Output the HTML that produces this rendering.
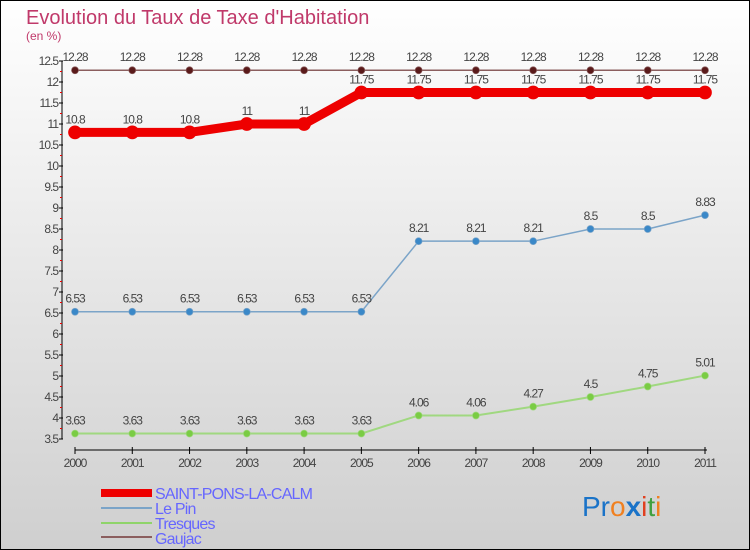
<!DOCTYPE html>
<html><head><meta charset="utf-8"><style>
html,body{margin:0;padding:0}
body{width:750px;height:550px;overflow:hidden;font-family:"Liberation Sans",sans-serif}
svg{display:block}
</style></head><body>
<svg id="chart" width="750" height="550" xmlns="http://www.w3.org/2000/svg">
<defs><linearGradient id="bg" x1="0" y1="0" x2="0" y2="1"><stop offset="0" stop-color="#ffffff"/><stop offset="1" stop-color="#cfcfcf"/></linearGradient></defs>
<rect x="0.5" y="0.5" width="749" height="549" fill="url(#bg)" stroke="#000"/>
<text x="26" y="24" font-size="20" fill="#c0396a">Evolution du Taux de Taxe d'Habitation</text>
<text x="26" y="40" font-size="12" fill="#c0396a">(en %)</text>
<g id="axes"></g>
<g id="series"></g>
<g id="legend" font-size="16" fill="#6666ff">
<rect x="101" y="489" width="51" height="8" fill="#e00"/>
<text x="155" y="499" fill="#6666ff" letter-spacing="-0.8">SAINT-PONS-LA-CALM</text>
<rect x="101" y="507" width="51" height="2" fill="#7ba4c8"/>
<text x="155" y="514" fill="#6666ff" letter-spacing="-0.8">Le Pin</text>
<rect x="101" y="522" width="51" height="2" fill="#8fd46a"/>
<text x="155" y="529" fill="#6666ff" letter-spacing="-0.8">Tresques</text>
<rect x="101" y="536" width="51" height="2" fill="#8b5e5e"/>
<text x="155" y="544" fill="#6666ff" letter-spacing="-0.8">Gaujac</text>
</g>
<text x="582" y="516" font-size="28"><tspan fill="#1a73c8">Pr</tspan><tspan fill="#f08020">o</tspan><tspan fill="#1a73c8" font-weight="bold">x</tspan><tspan fill="#e04020">i</tspan><tspan fill="#40a040">t</tspan><tspan fill="#f08020">i</tspan></text>
</svg>
<script>
const years=[2000,2001,2002,2003,2004,2005,2006,2007,2008,2009,2010,2011];
const saintPons=[10.8,10.8,10.8,11,11,11.75,11.75,11.75,11.75,11.75,11.75,11.75];
const lePin=[6.53,6.53,6.53,6.53,6.53,6.53,8.21,8.21,8.21,8.5,8.5,8.83];
const tresques=[3.63,3.63,3.63,3.63,3.63,3.63,4.06,4.06,4.27,4.5,4.75,5.01];
const gaujac=[12.28,12.28,12.28,12.28,12.28,12.28,12.28,12.28,12.28,12.28,12.28,12.28];
const yTicks=[3.5,4,4.5,5,5.5,6,6.5,7,7.5,8,8.5,9,9.5,10,10.5,11,11.5,12,12.5];
const NS='http://www.w3.org/2000/svg';
const xS=i=>75+i*(630/11);
const yS=v=>439-(v-3.5)*42;
function mk(tag,attrs,parent){const e=document.createElementNS(NS,tag);for(const k in attrs)e.setAttribute(k,attrs[k]);parent.appendChild(e);return e;}
const ax=document.getElementById('axes');
let l=mk('line',{x1:62,y1:yS(12.5),x2:62,y2:yS(3.5),stroke:'#000','stroke-width':1},ax);


for(const t of yTicks){
  const y=yS(t);
  mk('line',{x1:59,y1:y,x2:63,y2:y,stroke:'#000'},ax);
  const tx=mk('text',{x:58,y:y+4,'font-size':12,'text-anchor':'end',fill:'#444','letter-spacing':'-1'},ax);
  tx.textContent=String(t);
  
  
  if(t<12.5)mk('line',{x1:60,y1:y-10.5,x2:62,y2:y-10.5,stroke:'#e00'},ax);
}
l=mk('line',{x1:75,y1:450,x2:707,y2:450,stroke:'#000'},ax);


years.forEach((yr,i)=>{
  const x=xS(i);
  mk('line',{x1:x,y1:447,x2:x,y2:454,stroke:'#000'},ax);
  const tx=mk('text',{x:x,y:467,'font-size':12,'text-anchor':'middle',fill:'#444','letter-spacing':'-1'},ax);
  tx.textContent=String(yr);
  
  
});
const sg=document.getElementById('series');
function draw(data,name,color,dot,lw,r){
  const g=mk('g',{},sg);
  
  
  const p=mk('polyline',{points:data.map((v,i)=>xS(i)+','+yS(v)).join(' '),fill:'none',stroke:color,'stroke-width':lw,'stroke-linejoin':'round'},g);
  
  
  data.forEach((v,i)=>{
    const c=mk('circle',{cx:xS(i),cy:yS(v),r:r,fill:dot,stroke:color,'stroke-width':0.7},g);
    
    
    const t=mk('text',{x:xS(i),y:yS(v)-9,'font-size':12,'text-anchor':'middle',fill:'#444','letter-spacing':'-1'},g);
    t.textContent=String(v);
    
    
  });
}
draw(gaujac,'gaujac','#8b5e5e','#5a1a1a',1.5,3.5);
draw(lePin,'le-pin','#7ba4c8','#3a88c8',1.5,3.5);
draw(tresques,'tresques','#a0d880','#7acc44',2,3.5);
draw(saintPons,'saint-pons','#e00','#e00',9,6.5);
</script>
</body></html>
